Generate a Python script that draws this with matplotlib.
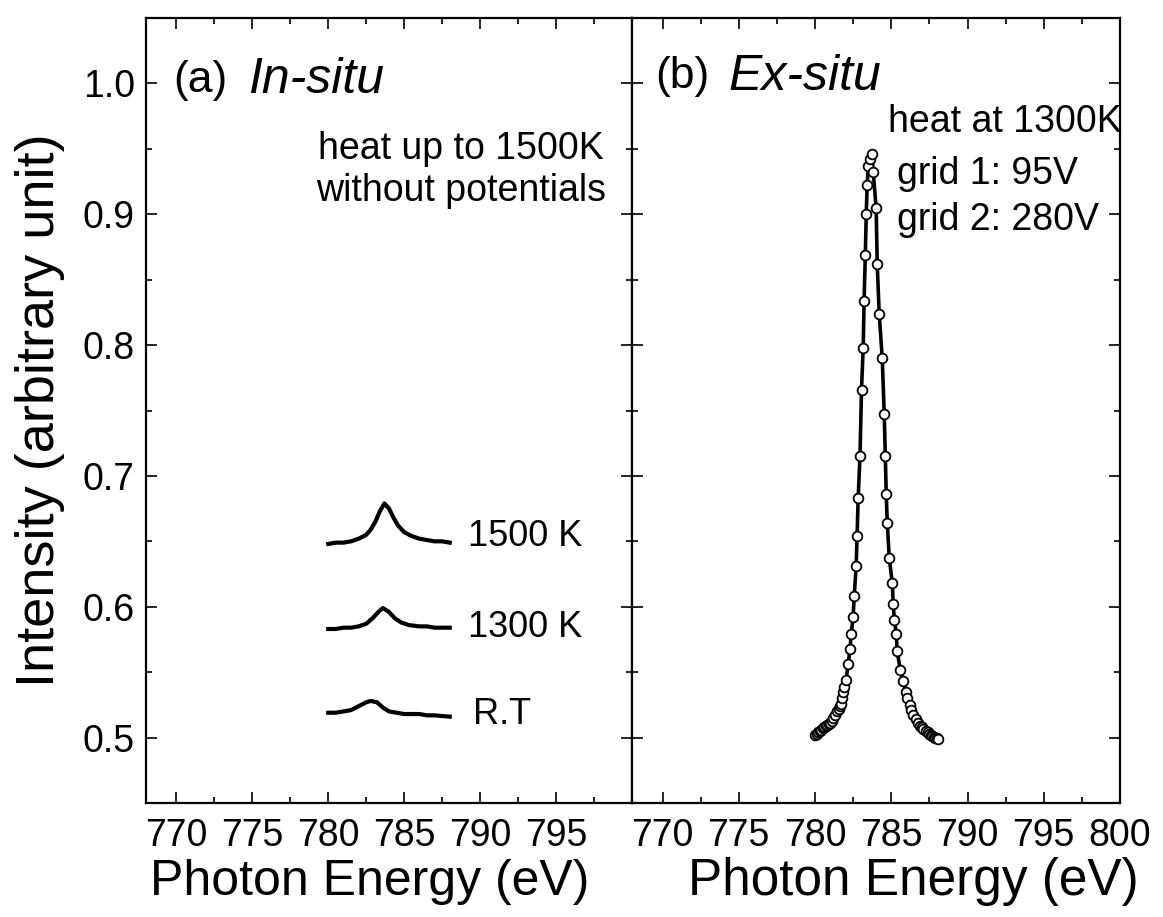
import matplotlib
matplotlib.use('Agg')
import matplotlib.pyplot as plt
from matplotlib.ticker import MultipleLocator

plt.rcParams['font.family'] = ['Liberation Sans', 'DejaVu Sans']

# (a) in-situ spectra
e_1500 = [780.0, 780.5, 781.0, 781.5, 782.0, 782.5, 782.8, 783.1, 783.4, 783.7,
          784.0, 784.3, 784.6, 785.0, 785.5, 786.0, 786.5, 787.0, 787.5, 788.0]
i_1500 = [0.648, 0.649, 0.649, 0.650, 0.652, 0.655, 0.659, 0.665, 0.673, 0.679,
          0.675, 0.668, 0.662, 0.657, 0.654, 0.652, 0.651, 0.650, 0.650, 0.649]

e_1300 = [780.0, 780.5, 781.0, 781.5, 782.0, 782.5, 782.9, 783.3, 783.6, 784.0,
          784.4, 784.8, 785.3, 786.0, 786.5, 787.0, 787.5, 788.0]
i_1300 = [0.583, 0.583, 0.584, 0.584, 0.585, 0.587, 0.591, 0.596, 0.599, 0.596,
          0.591, 0.588, 0.586, 0.585, 0.585, 0.584, 0.584, 0.584]

e_rt = [780.0, 780.5, 781.0, 781.5, 782.0, 782.5, 782.8, 783.2, 783.6, 784.0,
        784.5, 785.0, 786.0, 786.5, 787.0, 788.0]
i_rt = [0.519, 0.519, 0.520, 0.521, 0.524, 0.527, 0.528, 0.527, 0.523, 0.520,
        0.519, 0.518, 0.518, 0.517, 0.517, 0.516]

# (b) ex-situ spectrum
e_ex = [780.0, 780.1, 780.2, 780.3, 780.4, 780.5, 780.6, 780.7, 780.79, 780.9,
        781.0, 781.1, 781.2, 781.32, 781.45, 781.55, 781.65, 781.71, 781.78, 781.84,
        781.92, 782.04, 782.17, 782.3, 782.37, 782.5, 782.57, 782.7, 782.76, 782.83,
        782.95, 783.05, 783.16, 783.22, 783.3, 783.36, 783.42, 783.49, 783.6, 783.73,
        783.82, 784.01, 784.08, 784.21, 784.41, 784.54, 784.61, 784.67, 784.74, 784.87,
        785.07, 785.13, 785.2, 785.33, 785.39, 785.59, 785.79, 785.95, 786.05, 786.2,
        786.3, 786.45, 786.6, 786.75, 786.9, 787.0, 787.11, 787.3, 787.4, 787.5,
        787.6, 787.7, 787.8, 787.9, 788.0, 788.09]
i_ex = [0.502, 0.503, 0.504, 0.505, 0.506, 0.507, 0.508, 0.509, 0.5096, 0.5105,
        0.511, 0.513, 0.515, 0.517, 0.520, 0.522, 0.524, 0.526, 0.530, 0.535,
        0.539, 0.544, 0.556, 0.568, 0.579, 0.592, 0.608, 0.631, 0.654, 0.683,
        0.715, 0.766, 0.798, 0.834, 0.869, 0.900, 0.922, 0.937, 0.942, 0.946,
        0.932, 0.905, 0.862, 0.824, 0.790, 0.747, 0.715, 0.686, 0.664, 0.637,
        0.618, 0.602, 0.590, 0.579, 0.566, 0.552, 0.543, 0.535, 0.530, 0.525,
        0.521, 0.517, 0.514, 0.511, 0.509, 0.508, 0.5065, 0.505, 0.504, 0.503,
        0.502, 0.501, 0.5005, 0.500, 0.4995, 0.499]

left_ticks = [770, 775, 780, 785, 790, 795]
right_ticks = [770, 775, 780, 785, 790, 795, 800]
y_ticks = [0.5, 0.6, 0.7, 0.8, 0.9, 1.0]

W, H = 1163, 917
fig = plt.figure(figsize=(W / 100, H / 100), dpi=100)
ax1 = fig.add_axes([146 / W, 1 - 803 / H, 486 / W, 785 / H])
ax2 = fig.add_axes([632 / W, 1 - 803 / H, 488 / W, 785 / H], sharey=ax1)

for ax in (ax1, ax2):
    ax.set_xlim(768, 800)
    ax.set_ylim(0.45, 1.05)
    ax.xaxis.set_minor_locator(MultipleLocator(2.5))
    ax.yaxis.set_minor_locator(MultipleLocator(0.05))
    ax.tick_params(which='both', direction='in', top=True, right=True, width=1.2)
    ax.tick_params(which='major', length=8)
    ax.tick_params(which='minor', length=4)
    ax.tick_params(axis='x', labelsize=27, pad=11)
    ax.tick_params(axis='y', labelsize=27, pad=8)
    for s in ax.spines.values():
        s.set_linewidth(1.6)

ax1.set_xticks(left_ticks)
ax1.set_yticks(y_ticks)
ax1.set_yticklabels(['%.1f' % v for v in y_ticks])
ax2.set_xticks(right_ticks)
ax2.tick_params(axis='y', labelleft=False)

# left panel curves
ax1.plot(e_1500, i_1500, color='black', lw=3)
ax1.plot(e_1300, i_1300, color='black', lw=3)
ax1.plot(e_rt, i_rt, color='black', lw=3)
ax1.text(789.2, 0.654, '1500 K', fontsize=26, va='center')
ax1.text(789.2, 0.584, '1300 K', fontsize=26, va='center')
ax1.text(789.5, 0.518, 'R.T', fontsize=26, va='center')

ax1.text(0.056, 0.921, '(a)', fontsize=32, va='center', transform=ax1.transAxes)
ax1.text(0.210, 0.921, 'In-situ', fontsize=36, style='italic', va='center', transform=ax1.transAxes)
ax1.text(0.648, 0.806, 'heat up to 1500K\nwithout potentials', fontsize=27,
         ha='center', va='center', linespacing=1.2, transform=ax1.transAxes)

# right panel
ax2.plot(e_ex, i_ex, color='black', lw=2.6, marker='o', markersize=7,
         markerfacecolor='white', markeredgecolor='black', markeredgewidth=1.3)
ax2.text(0.047, 0.925, '(b)', fontsize=32, va='center', transform=ax2.transAxes)
ax2.text(0.197, 0.925, 'Ex-situ', fontsize=36, style='italic', va='center', transform=ax2.transAxes)
ax2.text(0.524, 0.867, 'heat at 1300K', fontsize=27, va='center', transform=ax2.transAxes)
ax2.text(0.543, 0.801, 'grid 1: 95V', fontsize=27, va='center', transform=ax2.transAxes)
ax2.text(0.543, 0.743, 'grid 2: 280V', fontsize=27, va='center', transform=ax2.transAxes)

ax1.text(0.461, -0.1006, 'Photon Energy (eV)', fontsize=36, ha='center', va='center',
         transform=ax1.transAxes)
ax2.text(0.576, -0.1006, 'Photon Energy (eV)', fontsize=37, ha='center', va='center',
         transform=ax2.transAxes)
ax1.text(-0.218, 0.5, 'Intensity (arbitrary unit)', fontsize=39, rotation=90,
         ha='center', va='center', transform=ax1.transAxes)

fig.savefig('out.png', dpi=100)
